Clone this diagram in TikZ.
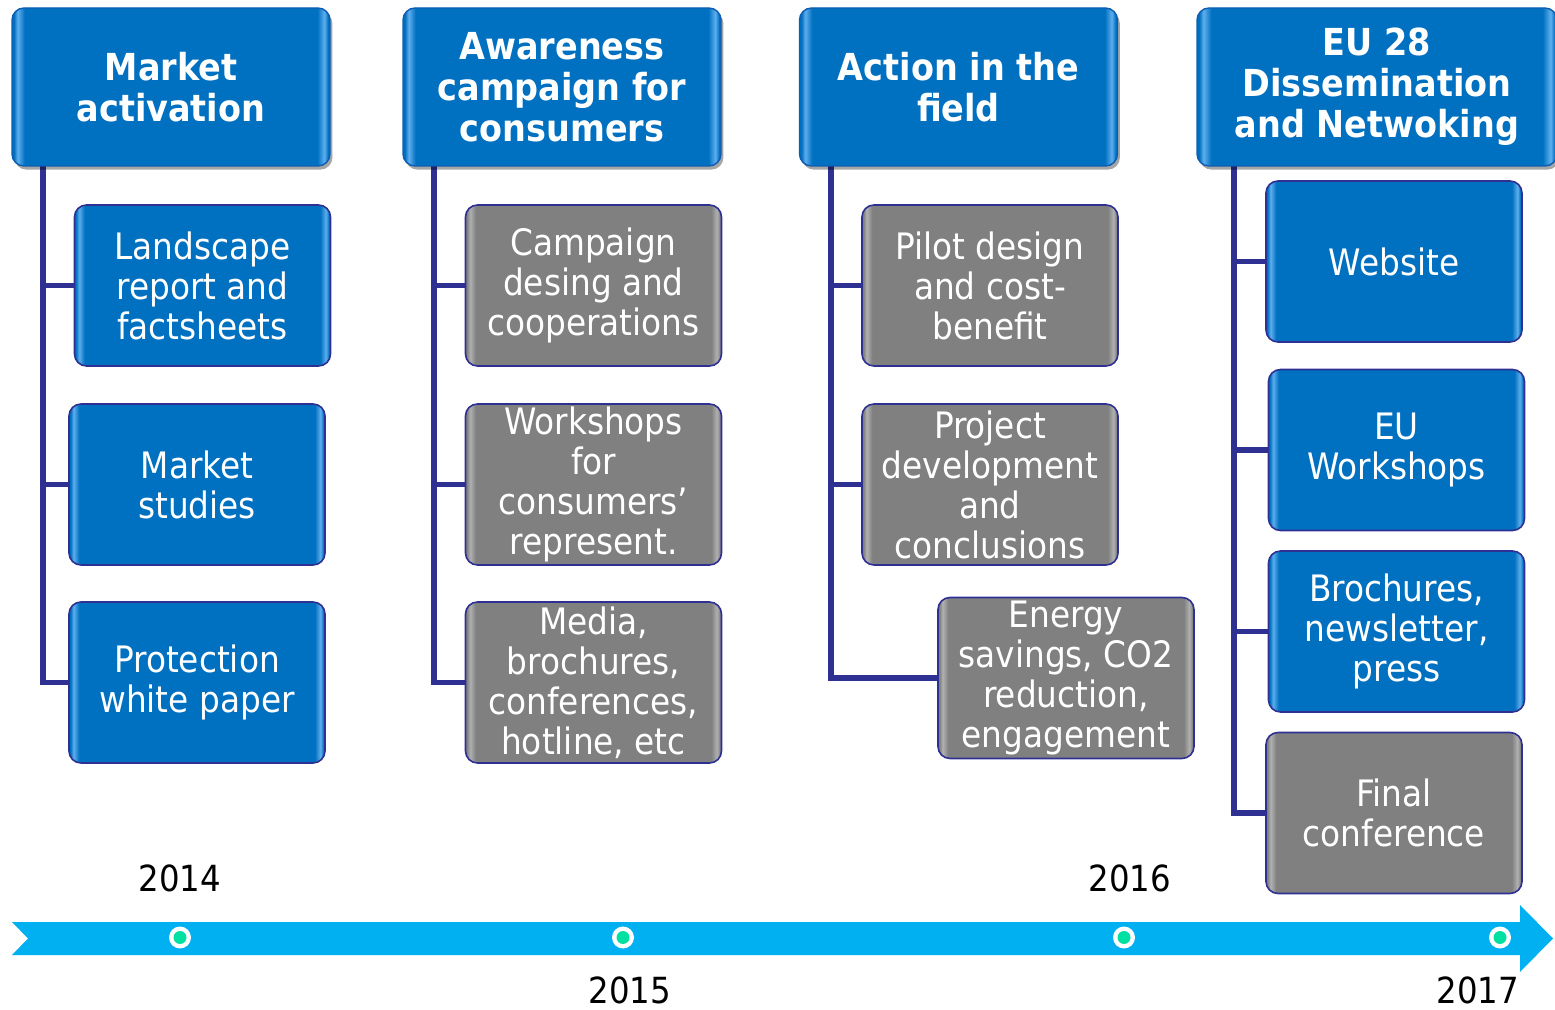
\documentclass[tikz,border=0pt]{standalone}
\usepackage{fontspec}
\setmainfont{DejaVu Sans Condensed}
\usetikzlibrary{shadows}
\definecolor{boxblue}{RGB}{0,112,192}
\definecolor{edgeblue}{RGB}{95,175,238}
\definecolor{boxgray}{RGB}{128,128,128}
\definecolor{edgegray}{RGB}{178,178,178}
\definecolor{navy}{RGB}{46,49,146}
\definecolor{bandblue}{RGB}{0,176,240}
\definecolor{dotgreen}{RGB}{0,224,160}
\pgfdeclarehorizontalshading{bevelblue}{100bp}{color(0bp)=(boxblue); color(25.3bp)=(boxblue); color(25.9bp)=(edgeblue); color(27bp)=(boxblue); color(73bp)=(boxblue); color(74.1bp)=(edgeblue); color(74.7bp)=(boxblue); color(100bp)=(boxblue)}
\pgfdeclarehorizontalshading{bevelgray}{100bp}{color(0bp)=(boxgray); color(25.3bp)=(boxgray); color(25.9bp)=(edgegray); color(27bp)=(boxgray); color(73bp)=(boxgray); color(74.1bp)=(edgegray); color(74.7bp)=(boxgray); color(100bp)=(boxgray)}
\tikzset{
  hdr/.style={draw=boxblue!70!navy, line width=0.7pt, rounded corners=6pt, shading=bevelblue,
    minimum width=159pt, minimum height=79pt, inner sep=0pt, text=white, align=center,
    font=\bfseries\fontsize{18.6}{20.5}\selectfont,
    drop shadow={shadow xshift=1.2pt, shadow yshift=-1.8pt, opacity=0.35, fill=black}},
  bluebox/.style={draw=navy, line width=0.8pt, rounded corners=6pt, shading=bevelblue,
    minimum width=128pt, minimum height=80.5pt, inner sep=0pt, text=white, align=center,
    font=\fontsize{18.2}{20}\selectfont},
  graybox/.style={bluebox, shading=bevelgray},
  trunk/.style={draw=navy, line width=2.6pt},
  outerdot/.style={circle, fill=white, minimum size=11pt, inner sep=0pt},
  innerdot/.style={circle, fill=dotgreen, minimum size=6.5pt, inner sep=0pt},
  year/.style={font=\fontsize{18}{21}\selectfont, text=black, inner sep=0pt}
}
\begin{document}
\begin{tikzpicture}[x=0.5pt,y=-0.5pt]
\useasboundingbox (0,0) rectangle (1555,1010);
% timeline band
\fill[bandblue] (12,922) -- (1520,922) -- (1520,905) -- (1553,938.5) -- (1520,972) -- (1520,955) -- (12,955) -- (28,938.5) -- cycle;
\foreach \i/\x in {1/180,2/623,3/1124,4/1500}{
  \node[outerdot] (d\i) at (\x,937.5) {};
  \node[innerdot] (g\i) at (d\i) {};
}
\node[year] (y1) at (180,878) {2014};
\node[year] (y2) at (630,990) {2015};
\node[year] (y3) at (1130,878) {2016};
\node[year] (y4) at (1478,990) {2017};
% trunk anchors
\coordinate (t1) at (43,166);
\coordinate (t2) at (434,166);
\coordinate (t3) at (831,166);
\coordinate (t4) at (1234,166);
% child boxes
\node[bluebox] (c1a) at (202.5,285.5) {Landscape\\report and\\factsheets};
\node[bluebox] (c1b) at (197,484.5) {Market\\studies};
\node[bluebox] (c1c) at (197,682.5) {Protection\\white paper};
\node[graybox] (c2a) at (593.5,285.5) {Campaign\\desing and\\cooperations};
\node[graybox] (c2b) at (593.5,484.5) {Workshops\\for\\consumers’\\represent.};
\node[graybox] (c2c) at (593.5,682.5) {Media,\\brochures,\\conferences,\\hotline, etc};
\node[graybox] (c3a) at (990,285.5) {Pilot design\\and cost-\\benefit};
\node[graybox] (c3b) at (990,484.5) {Project\\development\\and\\conclusions};
\node[graybox] (c3c) at (1066,678) {Energy\\savings, CO2\\reduction,\\engagement};
\node[bluebox] (c4a) at (1394,261.5) {Website};
\node[bluebox] (c4b) at (1396.5,450) {EU\\Workshops};
\node[bluebox] (c4c) at (1396.5,631.5) {Brochures,\\newsletter,\\press};
\node[graybox] (c4d) at (1394,813) {Final\\conference};
% connectors
\draw[trunk] (t1) |- (c1c.west);
\draw[trunk] (t1 |- c1a.west) -- (c1a.west);
\draw[trunk] (t1 |- c1b.west) -- (c1b.west);
\draw[trunk] (t2) |- (c2c.west);
\draw[trunk] (t2 |- c2a.west) -- (c2a.west);
\draw[trunk] (t2 |- c2b.west) -- (c2b.west);
\draw[trunk] (t3) |- (c3c.west);
\draw[trunk] (t3 |- c3a.west) -- (c3a.west);
\draw[trunk] (t3 |- c3b.west) -- (c3b.west);
\draw[trunk] (t4) |- (c4d.west);
\draw[trunk] (t4 |- c4a.west) -- (c4a.west);
\draw[trunk] (t4 |- c4b.west) -- (c4b.west);
\draw[trunk] (t4 |- c4c.west) -- (c4c.west);
% headers
\node[hdr] (h1) at (171,87) {Market\\activation};
\node[hdr] (h2) at (562,87) {Awareness\\campaign for\\consumers};
\node[hdr] (h3) at (958.5,87) {Action in the\\field};
\node[hdr, minimum width=180pt] (h4) at (1377,87) {EU 28\\Dissemination\\and Netwoking};
\end{tikzpicture}
\end{document}
